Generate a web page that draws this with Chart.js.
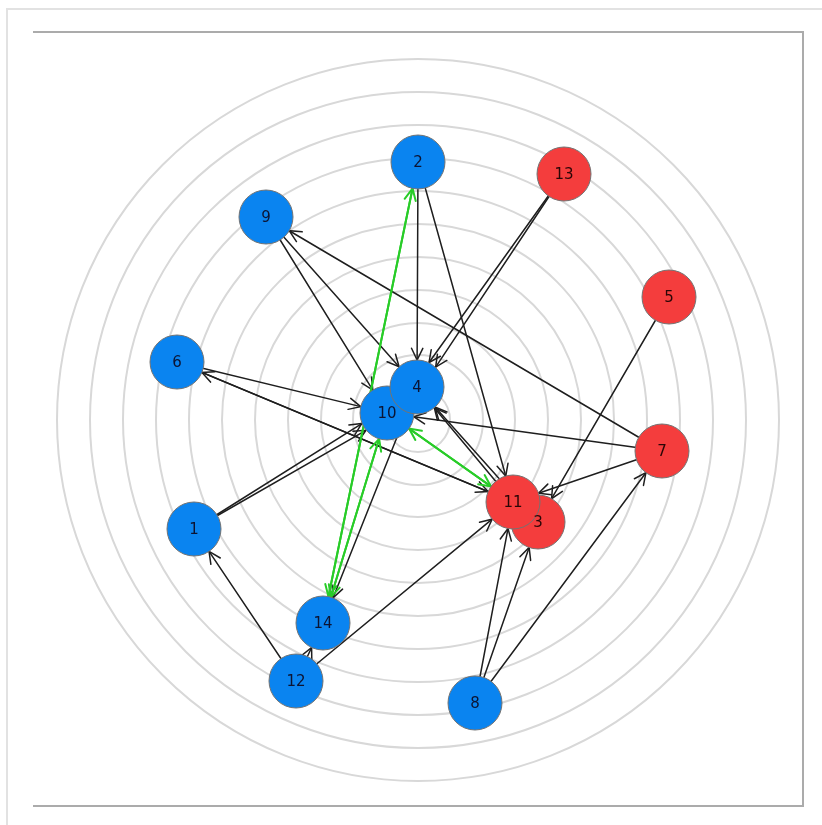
<!DOCTYPE html>
<html>
<head>
<meta charset="utf-8">
<script src="https://cdn.jsdelivr.net/npm/chart.js@4.4.1/dist/chart.umd.min.js"></script>
<style>
    html, body { margin: 0; padding: 0; background: #fff; }
    canvas { display: block; }
</style>
</head>
<body>
<canvas id="graph" width="822" height="825"></canvas>
<script>
// node layout, rings are centred on 0,0
var nodeIds   = [1, 2, 3, 10, 4, 5, 6, 7, 8, 9, 11, 12, 13, 14];
var nodeX     = [-224, 0, 120, -31, -1, 251, -241, 244, 57, -152, 95, -122, 146, -95];
var nodeY     = [-109, 258, -102, 7, 33, 123, 58, -31, -283, 203, -82, -261, 246, -203];
var nodeGroup = ['b', 'b', 'r', 'b', 'b', 'r', 'b', 'r', 'b', 'b', 'r', 'b', 'r', 'b'];

var ringRadii = [32, 65, 97, 130, 163, 196, 229, 262, 295, 328, 361];

// directed links
var edgeFrom = [2, 2, 13, 13, 9, 9, 7, 6, 11, 6, 1, 1, 12, 12, 12, 8, 8, 8, 7, 5, 7, 11, 3, 4];
var edgeTo   = [4, 11, 4, 4, 10, 4, 9, 10, 6, 11, 10, 10, 1, 14, 11, 11, 3, 7, 11, 3, 10, 4, 4, 14];

// highlighted links
var greenFrom = [10, 11, 14, 2, 10, 14];
var greenTo   = [11, 10, 2, 14, 14, 10];

var NODE_R = 27;

function nodePixel(chart, id) {
    var i = nodeIds.indexOf(id);
    return {
        x: chart.scales.x.getPixelForValue(nodeX[i]),
        y: chart.scales.y.getPixelForValue(nodeY[i])
    };
}

function drawEdges(chart, from, to, color, width) {
    var ctx = chart.ctx;
    var seen = {}, total = {};
    from.forEach(function (f, i) {
        var k = f + '-' + to[i];
        total[k] = (total[k] || 0) + 1;
    });
    ctx.save();
    ctx.strokeStyle = color;
    ctx.lineWidth = width;
    ctx.lineCap = 'round';
    from.forEach(function (f, i) {
        var k = f + '-' + to[i];
        var n = total[k];
        var idx = seen[k] || 0;
        seen[k] = idx + 1;
        var a = nodePixel(chart, f);
        var b = nodePixel(chart, to[i]);
        var dx = b.x - a.x, dy = b.y - a.y;
        var len = Math.sqrt(dx * dx + dy * dy);
        var ux = dx / len, uy = dy / len;
        // spread parallel links a little at the target end
        var off = (idx - (n - 1) / 2) * 9;
        var tx = b.x - uy * off, ty = b.y + ux * off;
        dx = tx - a.x; dy = ty - a.y;
        len = Math.sqrt(dx * dx + dy * dy);
        ux = dx / len; uy = dy / len;
        var ex = tx - ux * NODE_R, ey = ty - uy * NODE_R;

        ctx.beginPath();
        ctx.moveTo(a.x, a.y);
        ctx.lineTo(ex, ey);
        ctx.stroke();

        // open arrow head
        var ang = Math.atan2(uy, ux);
        ctx.beginPath();
        ctx.moveTo(ex - 13 * Math.cos(ang - 0.45), ey - 13 * Math.sin(ang - 0.45));
        ctx.lineTo(ex, ey);
        ctx.lineTo(ex - 13 * Math.cos(ang + 0.45), ey - 13 * Math.sin(ang + 0.45));
        ctx.stroke();
    });
    ctx.restore();
}

var backdrop = {
    id: 'backdrop',
    beforeDatasetsDraw: function (chart) {
        var ctx = chart.ctx;
        ctx.save();
        // outer page edge
        ctx.strokeStyle = '#e2e2e2';
        ctx.lineWidth = 2;
        ctx.beginPath();
        ctx.moveTo(7, 825);
        ctx.lineTo(7, 9);
        ctx.lineTo(822, 9);
        ctx.stroke();
        // panel box (open on the left)
        ctx.strokeStyle = '#ababab';
        ctx.beginPath();
        ctx.moveTo(33, 32);
        ctx.lineTo(803, 32);
        ctx.lineTo(803, 806);
        ctx.lineTo(33, 806);
        ctx.stroke();

        // rings
        var cx = chart.scales.x.getPixelForValue(0);
        var cy = chart.scales.y.getPixelForValue(0);
        ctx.strokeStyle = '#d8d8d8';
        ctx.lineWidth = 2;
        ringRadii.forEach(function (r) {
            ctx.beginPath();
            ctx.arc(cx, cy, chart.scales.x.getPixelForValue(r) - cx, 0, Math.PI * 2);
            ctx.stroke();
        });
        ctx.restore();

        drawEdges(chart, edgeFrom, edgeTo, '#1e1e1e', 1.5);
        drawEdges(chart, greenFrom, greenTo, '#28cc28', 2);
    },
    afterDatasetsDraw: function (chart) {
        var ctx = chart.ctx;
        ctx.save();
        ctx.font = '15px "DejaVu Sans", Verdana, sans-serif';
        ctx.textAlign = 'center';
        ctx.textBaseline = 'middle';
        nodeIds.forEach(function (id, i) {
            var p = nodePixel(chart, id);
            ctx.fillStyle = nodeGroup[i] === 'r' ? '#2a0606' : '#0c1433';
            ctx.fillText(String(id), p.x, p.y + 1);
        });
        ctx.restore();
    }
};

var ctx = document.getElementById('graph');
var chart = new Chart(ctx, {
    type: 'scatter',
    data: {
        datasets: [{
            label: 'nodes',
            data: nodeX.map(function (x, i) { return { x: x, y: nodeY[i] }; }),
            backgroundColor: nodeGroup.map(function (g) { return g === 'r' ? '#f43d3d' : '#0a84f0'; }),
            borderColor: '#737373',
            borderWidth: 1,
            pointRadius: NODE_R,
            pointHoverRadius: NODE_R,
            clip: false
        }]
    },
    options: {
        responsive: false,
        animation: false,
        events: [],
        layout: { padding: 0, autoPadding: false },
        plugins: {
            legend: { display: false },
            tooltip: { enabled: false }
        },
        scales: {
            x: { type: 'linear', display: false, min: -418, max: 404 },
            y: { type: 'linear', display: false, min: -405, max: 420 }
        }
    },
    plugins: [backdrop]
});
</script>
</body>
</html>
